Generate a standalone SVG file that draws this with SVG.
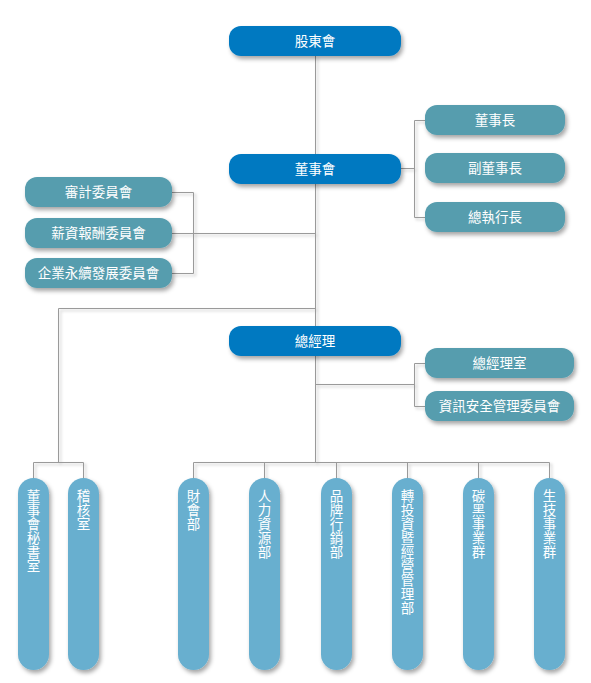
<svg xmlns="http://www.w3.org/2000/svg" width="591" height="683" viewBox="0 0 591 683">
<defs>
<filter id="sh" x="-20%" y="-30%" width="150%" height="180%">
<feDropShadow dx="2" dy="3" stdDeviation="2" flood-color="#000" flood-opacity="0.35"/>
</filter>
<filter id="lsh" x="-20%" y="-20%" width="150%" height="150%">
<feDropShadow dx="2" dy="2" stdDeviation="1.5" flood-color="#000" flood-opacity="0.25"/>
</filter>
<style>
.dk{fill:#0079c1}
.tl{fill:#579dae}
.lt{fill:#68afcf}
text{font-family:"Noto Sans CJK TC","Noto Sans CJK SC",sans-serif;font-size:13.5px;fill:#fff}
.h{text-anchor:middle}
.v{writing-mode:vertical-rl;letter-spacing:0.5px}
.ln{fill:none;stroke:#9a9a9a;stroke-width:1}
</style>
</defs>
<rect width="591" height="683" fill="#fff"/>
<g id="connectors" class="ln" filter="url(#lsh)">
<path d="M315.5 56 V462"/>
<path d="M401 168.5 H414.5 M425 120.5 H414.5 V217.5 H425"/>
<path d="M172 233.5 H315.5 M172 192.5 H193.5 V273.5 H172"/>
<path d="M315.5 308.5 H58.5 V462.5 M33.5 478 V462.5 H83.5 V478"/>
<path d="M315.5 384.5 H414.5 M425 363.5 H414.5 V406.5 H425"/>
<path d="M193.5 478 V462.5 H549.5 V478 M264.5 462.5 V478 M336.5 462.5 V478 M407.5 462.5 V478 M478.5 462.5 V478 M315.5 462 V462.5"/>
</g>
<g id="n-gudong"><rect class="dk" x="229" y="26" width="172" height="30" rx="12" filter="url(#sh)"/><text class="h" x="315" y="46">股東會</text></g>
<g id="n-dongshihui"><rect class="dk" x="229" y="154" width="172" height="30" rx="12" filter="url(#sh)"/><text class="h" x="315" y="174">董事會</text></g>
<g id="n-chair"><rect class="tl" x="425" y="105" width="140" height="30" rx="12" filter="url(#sh)"/><text class="h" x="495" y="125">董事長</text></g>
<g id="n-vicechair"><rect class="tl" x="425" y="153" width="140" height="30" rx="12" filter="url(#sh)"/><text class="h" x="495" y="173">副董事長</text></g>
<g id="n-ceo"><rect class="tl" x="425" y="202" width="140" height="30" rx="12" filter="url(#sh)"/><text class="h" x="495" y="222">總執行長</text></g>
<g id="n-audit"><rect class="tl" x="25" y="177" width="147" height="30" rx="12" filter="url(#sh)"/><text class="h" x="98.5" y="197">審計委員會</text></g>
<g id="n-pay"><rect class="tl" x="25" y="218" width="147" height="30" rx="12" filter="url(#sh)"/><text class="h" x="98.5" y="238">薪資報酬委員會</text></g>
<g id="n-esg"><rect class="tl" x="25" y="258" width="147" height="30" rx="12" filter="url(#sh)"/><text class="h" x="98.5" y="278">企業永續發展委員會</text></g>
<g id="n-gm"><rect class="dk" x="229" y="326" width="172" height="30" rx="12" filter="url(#sh)"/><text class="h" x="315" y="346">總經理</text></g>
<g id="n-gmoffice"><rect class="tl" x="425" y="348" width="149" height="30" rx="12" filter="url(#sh)"/><text class="h" x="499.5" y="368">總經理室</text></g>
<g id="n-infosec"><rect class="tl" x="425" y="391" width="149" height="30" rx="12" filter="url(#sh)"/><text class="h" x="499.5" y="411">資訊安全管理委員會</text></g>
<g id="n-sec"><rect class="lt" x="18" y="478" width="31" height="192" rx="15.5" filter="url(#sh)"/><text class="v" x="33.5" y="489">董事會秘書室</text></g>
<g id="n-audit-office"><rect class="lt" x="68" y="478" width="31" height="192" rx="15.5" filter="url(#sh)"/><text class="v" x="83.5" y="489">稽核室</text></g>
<g id="n-finance"><rect class="lt" x="178" y="478" width="31" height="192" rx="15.5" filter="url(#sh)"/><text class="v" x="193.5" y="489">財會部</text></g>
<g id="n-hr"><rect class="lt" x="249" y="478" width="31" height="192" rx="15.5" filter="url(#sh)"/><text class="v" x="264.5" y="489">人力資源部</text></g>
<g id="n-brand"><rect class="lt" x="321" y="478" width="31" height="192" rx="15.5" filter="url(#sh)"/><text class="v" x="336.5" y="489">品牌行銷部</text></g>
<g id="n-invest"><rect class="lt" x="392" y="478" width="31" height="192" rx="15.5" filter="url(#sh)"/><text class="v" x="407.5" y="489">轉投資暨經營管理部</text></g>
<g id="n-carbon"><rect class="lt" x="463" y="478" width="31" height="192" rx="15.5" filter="url(#sh)"/><text class="v" x="478.5" y="489">碳黑事業群</text></g>
<g id="n-biotech"><rect class="lt" x="534" y="478" width="31" height="192" rx="15.5" filter="url(#sh)"/><text class="v" x="549.5" y="489">生技事業群</text></g>
</svg>
